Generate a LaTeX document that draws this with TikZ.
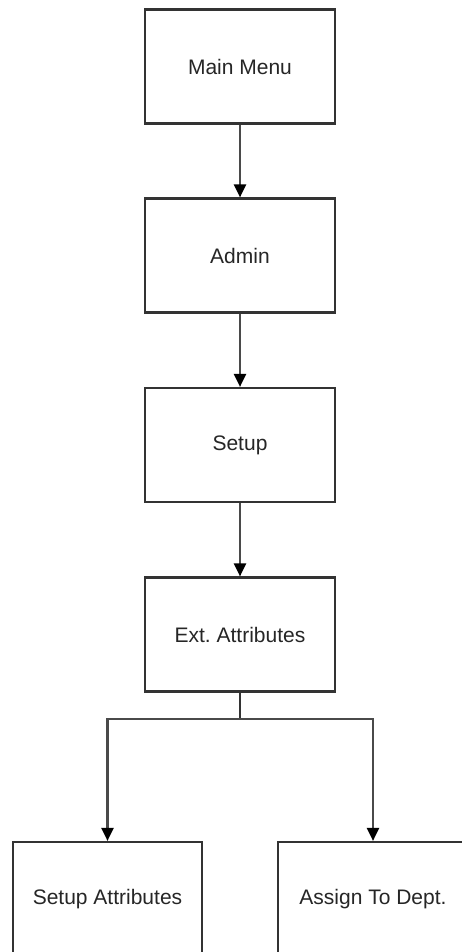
\documentclass[tikz,border=0pt]{standalone}
\usepackage{fontspec}
\setmainfont{Liberation Sans}
\usetikzlibrary{arrows.meta}
\frenchspacing
\definecolor{boxline}{HTML}{333333}
\definecolor{wire}{HTML}{4A4A4A}
\definecolor{label}{HTML}{262626}
\tikzset{
  menubox/.style={draw=boxline, line width=2.2pt, rectangle, minimum width=190pt,
    minimum height=114pt, inner sep=0pt, text=label,
    font=\fontsize{21pt}{24pt}\selectfont},
  flow/.style={draw=wire, line width=2.2pt,
    -{Triangle[width=12pt,length=13pt,color=black]}},
  trunk/.style={draw=boxline, line width=2.4pt}
}
\begin{document}
\begin{tikzpicture}[x=1pt,y=-1pt]
  \useasboundingbox (0,0) rectangle (462,952);
  \clip (0,0) rectangle (462,952);
  \fill[white] (0,0) rectangle (462,952);

  \node[menubox] (main)  at (240,66.5)  {Main Menu};
  \node[menubox] (admin) at (240,255.5) {Admin};
  \node[menubox] (setup) at (240,445)   {Setup};
  \node[menubox] (ext)   at (240,634.5) {Ext. Attributes};
  \node[menubox, minimum width=189pt] (attr) at (107.5,899) {Setup Attributes};
  \node[menubox] (dept)  at (373,899)   {Assign To Dept.};

  \coordinate (split) at (240,719);

  \draw[flow] (main.south)  -- (admin.north);
  \draw[flow] (admin.south) -- (setup.north);
  \draw[flow] (setup.south) -- (ext.north);
  \draw[trunk] (ext.south) -- (split);
  \draw[flow] (split) -| (attr.north);
  \draw[flow] (split) -| (dept.north);
\end{tikzpicture}
\end{document}
